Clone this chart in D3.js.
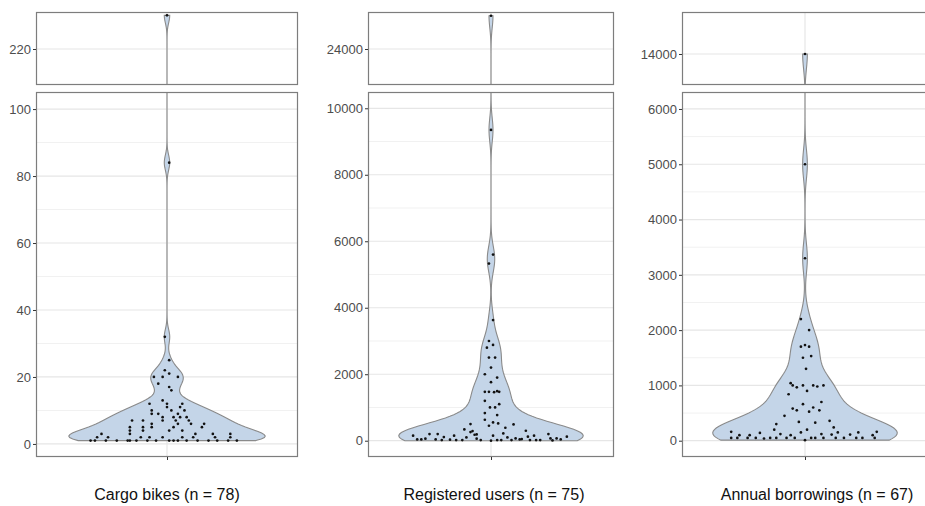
<!DOCTYPE html>
<html>
<head>
<meta charset="utf-8">
<script src="https://cdn.jsdelivr.net/npm/d3@7/dist/d3.min.js"></script>
<style>
body { margin: 0; background: #fff; }
text { font-family: "Liberation Sans", Arial, sans-serif; }
</style>
</head>
<body>
<div id="chart"></div>
<script>
// cargo bikes per sharing scheme + horizontal jitter (x units)
var cargoValues = [
  1,1,1,1,1,1,1,1,1,1,1,1,1,1,1,1,1,1,
  2,2,2,2,2,2,2,2,2,
  3,3,3,3,3,
  4,4,4,4,
  5,5,5,5,5,
  6,6,6,6,
  7,7,7,7,7,
  8,8,8,8,
  9,9,9,
  10,10,10,
  11,11,
  12,12,12,
  13,16,17,18,20,20,20,21,22,25,32,84,230];
var cargoJitter = [
  -0.35,-0.33,-0.28,-0.23,-0.18,-0.17,-0.14,-0.09,-0.05,0.01,0.03,0.05,0.09,0.14,0.19,0.23,0.28,0.32,
  -0.32,-0.27,-0.12,-0.08,-0.02,0.07,0.12,0.22,0.29,
  -0.30,-0.17,0.13,0.21,0.29,
  -0.17,-0.11,0.01,0.07,
  -0.17,-0.11,-0.07,0.03,0.16,
  -0.07,0.05,0.11,0.17,
  -0.16,-0.11,-0.02,0.04,0.10,
  -0.02,0.03,0.06,0.09,
  -0.07,-0.04,0.05,
  -0.07,0.02,0.08,
  0.00,0.06,
  -0.08,0.00,0.07,
  -0.02,0.02,0.01,-0.04,-0.06,-0.02,0.05,0.01,-0.01,0.01,-0.01,0.01,0.00];

var usersValues = [
  25000,9350,5600,5330,3630,3000,2880,2800,2500,2500,2200,2000,1900,1760,
  1470,1470,1460,1490,1470,1200,1100,1000,1000,830,770,630,550,450,520,
  150,40,40,200,40,200,20,110,150,20,20,340,100,260,180,60,20,0,150,20,
  20,220,390,100,20,490,70,40,300,120,20,150,20,20,200,70,70,40,120,
  290,500,190,60,30,50,10];
var usersJitter = [
  0.00,0.00,0.01,-0.01,0.01,-0.01,0.01,-0.02,-0.01,0.02,0.00,-0.03,0.03,0.00,
  -0.03,-0.01,0.015,0.03,0.04,-0.03,0.04,-0.005,0.02,-0.03,0.03,-0.03,0.01,-0.01,0.035,
  -0.38,-0.36,-0.34,-0.30,-0.27,-0.26,-0.24,-0.23,-0.18,-0.17,-0.14,-0.13,-0.12,-0.10,-0.08,-0.07,-0.05,0.00,0.01,0.03,
  0.05,0.06,0.07,0.08,0.10,0.11,0.12,0.14,0.17,0.18,0.19,0.21,0.22,0.24,0.28,0.29,0.32,0.34,0.37,
  -0.09,-0.10,-0.07,-0.32,-0.20,0.15,0.30];

var borrowValues = [
  14000,5000,3300,2200,2000,1700,1730,1700,1500,1530,1300,
  1040,1000,965,1000,900,1000,980,1000,840,700,
  580,550,660,600,525,550,450,340,325,360,300,200,200,240,
  160,140,120,100,100,100,150,120,110,150,110,150,100,160,
  50,50,50,50,50,50,50,50,10,50,50,50,50,50,50,50,50,40];
var borrowJitter = [
  0.00,0.00,0.00,-0.02,0.02,-0.02,0.00,0.02,-0.01,0.03,0.005,
  -0.07,-0.06,-0.04,-0.01,0.01,0.04,0.06,0.09,-0.08,0.08,
  -0.06,-0.04,-0.01,0.04,0.02,0.07,-0.10,-0.03,0.05,0.12,-0.14,-0.15,0.01,0.14,
  -0.36,-0.22,-0.12,-0.32,-0.27,-0.07,-0.02,0.08,0.13,0.16,0.22,0.26,0.33,0.35,
  -0.36,-0.33,-0.28,-0.24,-0.17,-0.14,-0.09,-0.05,0.00,0.03,0.05,0.09,0.15,0.19,0.25,0.28,0.34,-0.20];

var categoryLabels = ["Cargo bikes (n = 78)", "Registered users (n = 75)", "Annual borrowings (n = 67)"];

var cargoTicks = [0, 20, 40, 60, 80, 100], cargoTopTicks = [220];
var usersTicks = [0, 2000, 4000, 6000, 8000, 10000], usersTopTicks = [24000];
var borrowTicks = [0, 1000, 2000, 3000, 4000, 5000, 6000], borrowTopTicks = [14000];

var W = 925, H = 506;
var svg = d3.select("#chart").append("svg").attr("width", W).attr("height", H);

var panels = [
  {values: cargoValues, jitter: cargoJitter, ticks: cargoTicks, topTicks: cargoTopTicks,
   left: 36, right: 298, main: [-3.9, 105.1], top: [209.3, 231], labelX: 167},
  {values: usersValues, jitter: usersJitter, ticks: usersTicks, topTicks: usersTopTicks,
   left: 368, right: 614, main: [-490, 10490], top: [22917, 25113], labelX: 494},
  {values: borrowValues, jitter: borrowJitter, ticks: borrowTicks, topTicks: borrowTopTicks,
   left: 682, right: 928, main: [-295, 6307], top: [13439, 14760], labelX: 817}
];

var topBox = [12, 85], mainBox = [92, 457];

// gaussian kernel density, bandwidth like R's bw.nrd0
function bwNrd0(v) {
  var s = d3.sort(v);
  var sd = d3.deviation(s);
  var iqr = d3.quantileSorted(s, 0.75) - d3.quantileSorted(s, 0.25);
  var lo = Math.min(sd, iqr / 1.34);
  if (!lo) lo = sd || Math.abs(s[0]) || 1;
  return 0.9 * lo * Math.pow(s.length, -0.2);
}
function density(v) {
  var bw = bwNrd0(v);
  var mn = d3.min(v), mx = d3.max(v);
  var pts = d3.range(512).map(function (i) {
    var y = mn + (mx - mn) * i / 511;
    var d = d3.mean(v, function (x) { var z = (y - x) / bw; return Math.exp(-0.5 * z * z); });
    return {v: y, d: d};
  });
  var maxD = d3.max(pts, function (p) { return p.d; });
  pts.forEach(function (p) { p.w = 0.45 * p.d / maxD; });
  return pts;
}

panels.forEach(function (p, pi) {
  var x = d3.scaleLinear().domain([0.4, 1.6]).range([p.left, p.right]);
  var dens = density(p.values);
  var pts = p.values.map(function (v, i) { return {v: v, j: p.jitter[i]}; });

  [{box: topBox, dom: p.top, ticks: p.topTicks, minor: []},
   {box: mainBox, dom: p.main, ticks: p.ticks,
    minor: p.ticks.slice(1).map(function (t, i) { return (t + p.ticks[i]) / 2; })}]
  .forEach(function (s, si) {
    var y = d3.scaleLinear().domain(s.dom).range([s.box[1], s.box[0]]);
    var id = "clip" + pi + "_" + si;
    svg.append("clipPath").attr("id", id).append("rect")
      .attr("x", p.left).attr("y", s.box[0]).attr("width", p.right - p.left).attr("height", s.box[1] - s.box[0]);
    var g = svg.append("g").attr("clip-path", "url(#" + id + ")");

    g.selectAll(".minor").data(s.minor).enter().append("line")
      .attr("x1", p.left).attr("x2", p.right).attr("y1", y).attr("y2", y)
      .attr("stroke", "#f1f1f1").attr("stroke-width", 1);
    g.selectAll(".major").data(s.ticks).enter().append("line")
      .attr("x1", p.left).attr("x2", p.right).attr("y1", y).attr("y2", y)
      .attr("stroke", "#e6e6e6").attr("stroke-width", 1.2);
    g.append("line").attr("x1", x(1)).attr("x2", x(1)).attr("y1", s.box[0]).attr("y2", s.box[1])
      .attr("stroke", "#e6e6e6").attr("stroke-width", 1.2);

    var area = d3.area()
      .y(function (d) { return y(d.v); })
      .x0(function (d) { return x(1 - d.w); })
      .x1(function (d) { return x(1 + d.w); });
    g.append("path").datum(dens).attr("d", area)
      .attr("fill", "#c4d5e8").attr("stroke", "#8a8a8a").attr("stroke-width", 1.1);

    g.selectAll("circle").data(pts).enter().append("circle")
      .attr("cx", function (d) { return x(1 + d.j); })
      .attr("cy", function (d) { return y(d.v); })
      .attr("r", 1.35).attr("fill", "#111");

    svg.append("rect").attr("x", p.left + 0.5).attr("y", s.box[0] + 0.5)
      .attr("width", p.right - p.left - 1).attr("height", s.box[1] - s.box[0] - 1)
      .attr("fill", "none").attr("stroke", "#7d7d7d").attr("stroke-width", 1.2);

    var ax = svg.append("g").attr("transform", "translate(" + p.left + ",0)")
      .call(d3.axisLeft(y).tickValues(s.ticks).tickSize(3).tickPadding(2).tickFormat(d3.format("d")));
    ax.select(".domain").remove();
    ax.selectAll(".tick line").attr("stroke", "#333");
    ax.selectAll(".tick text").attr("fill", "#4d4d4d").style("font-size", "13px")
      .style("font-family", "'Liberation Sans', Arial, sans-serif");

    if (si === 1) {
      var bx = svg.append("g").attr("transform", "translate(0," + mainBox[1] + ")")
        .call(d3.axisBottom(x).tickValues([1]).tickSize(3).tickFormat(""));
      bx.select(".domain").remove();
      bx.selectAll(".tick line").attr("stroke", "#333");
    }
  });

  svg.append("text").attr("x", p.labelX).attr("y", 500).attr("text-anchor", "middle")
    .style("font-size", "16px").attr("fill", "#111").text(categoryLabels[pi]);
});
</script>
</body>
</html>
